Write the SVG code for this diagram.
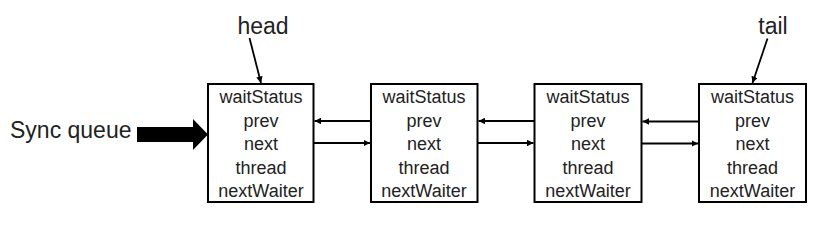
<svg xmlns="http://www.w3.org/2000/svg" width="818" height="244" viewBox="0 0 818 244">
<style>
.box{fill:#fff;stroke:#000;stroke-width:2}
.f{font-family:"Liberation Sans",Arial,sans-serif;font-size:18px;fill:#222;text-anchor:middle}
.lbl{font-family:"Liberation Sans",Arial,sans-serif;font-size:23px;fill:#222}
.c{stroke:#000;stroke-width:1.8;fill:none;marker-end:url(#ah)}
</style>
<defs>
<marker id="ah" viewBox="0 0 10 10" refX="10" refY="5" markerWidth="3.6" markerHeight="3.6" orient="auto" markerUnits="strokeWidth">
<path d="M0,0 L10,5 L0,10 z" fill="#000"/>
</marker>
</defs>
<rect width="818" height="244" fill="#fff"/>
<text class="lbl" x="263" y="34" text-anchor="middle">head</text>
<text class="lbl" x="773" y="34" text-anchor="middle">tail</text>
<text class="lbl" x="10" y="138">Sync queue</text>
<g id="node1">
<rect class="box" x="208" y="84" width="105.5" height="118"/>
<text class="f" x="261" y="103">waitStatus</text>
<text class="f" x="261" y="126.5">prev</text>
<text class="f" x="261" y="150">next</text>
<text class="f" x="261" y="173.5">thread</text>
<text class="f" x="261" y="197">nextWaiter</text>
</g>
<g id="node2">
<rect class="box" x="371" y="84" width="106.5" height="118"/>
<text class="f" x="424" y="103">waitStatus</text>
<text class="f" x="424" y="126.5">prev</text>
<text class="f" x="424" y="150">next</text>
<text class="f" x="424" y="173.5">thread</text>
<text class="f" x="424" y="197">nextWaiter</text>
</g>
<g id="node3">
<rect class="box" x="534.5" y="84" width="107" height="118"/>
<text class="f" x="588" y="103">waitStatus</text>
<text class="f" x="588" y="126.5">prev</text>
<text class="f" x="588" y="150">next</text>
<text class="f" x="588" y="173.5">thread</text>
<text class="f" x="588" y="197">nextWaiter</text>
</g>
<g id="node4">
<rect class="box" x="699" y="84" width="107" height="118"/>
<text class="f" x="752.5" y="103">waitStatus</text>
<text class="f" x="752.5" y="126.5">prev</text>
<text class="f" x="752.5" y="150">next</text>
<text class="f" x="752.5" y="173.5">thread</text>
<text class="f" x="752.5" y="197">nextWaiter</text>
</g>
<g id="connectors">
<polygon points="137,127 193,127 193,119 208,134.5 193,150 193,142 137,142" fill="#000"/>
<line class="c" x1="249.5" y1="38" x2="261" y2="83"/>
<line class="c" x1="767.5" y1="38.5" x2="752.5" y2="83"/>
<line class="c" x1="371" y1="121" x2="314.5" y2="121"/>
<line class="c" x1="313.5" y1="143" x2="370" y2="143"/>
<line class="c" x1="534.5" y1="121" x2="478.5" y2="121"/>
<line class="c" x1="477.5" y1="143" x2="533.5" y2="143"/>
<line class="c" x1="699" y1="121.5" x2="642.5" y2="121.5"/>
<line class="c" x1="641.5" y1="143.5" x2="698" y2="143.5"/>
</g>
</svg>
